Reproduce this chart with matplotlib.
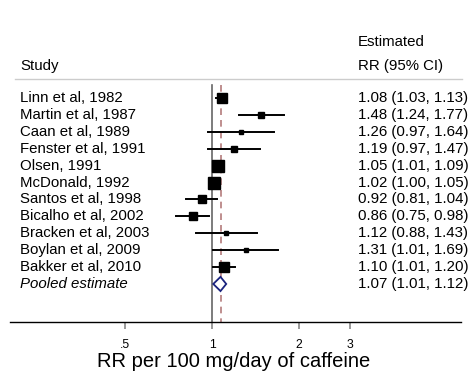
import matplotlib.pyplot as plt
import numpy as np

plt.rcParams['font.family'] = ['Liberation Sans', 'DejaVu Sans']

studies = ['Linn et al, 1982', 'Martin et al, 1987', 'Caan et al, 1989',
           'Fenster et al, 1991', 'Olsen, 1991', 'McDonald, 1992',
           'Santos et al, 1998', 'Bicalho et al, 2002', 'Bracken et al, 2003',
           'Boylan et al, 2009', 'Bakker et al, 2010']
rr = [1.08, 1.48, 1.26, 1.19, 1.05, 1.02, 0.92, 0.86, 1.12, 1.31, 1.10]
lo = [1.03, 1.24, 0.97, 0.97, 1.01, 1.00, 0.81, 0.75, 0.88, 1.01, 1.01]
hi = [1.13, 1.77, 1.64, 1.47, 1.09, 1.05, 1.04, 0.98, 1.43, 1.69, 1.20]
weights = [15.6, 6.3, 3.2, 4.6, 17.0, 18.6, 8.3, 8.3, 3.2, 3.2, 11.6]

pooled = 1.07
pooled_lo = 1.01
pooled_hi = 1.12

ticks = [0.5, 1, 2, 3]
tick_labels = ['.5', '1', '2', '3']

W, H = 477, 380
fig = plt.figure(figsize=(W / 100, H / 100), dpi=100)
ax = fig.add_axes([10 / W, 58 / H, 451 / W, 322 / H])
ax.set_xscale('log')
ax.set_xlim(0.2, 7.27)
ax.set_ylim(13.25, -5.8)
for s in ['top', 'right', 'left']:
    ax.spines[s].set_visible(False)
ax.spines['bottom'].set_linewidth(1.0)
ax.set_yticks([])
ax.set_xticks(ticks)
ax.set_xticklabels(tick_labels, fontsize=8.8)
ax.xaxis.set_minor_locator(plt.NullLocator())
ax.tick_params(axis='x', length=5, width=1.2, color='#888888', pad=7)

n = len(studies)
rows = np.arange(n)

# reference lines
ax.plot([1, 1], [-0.75, 13.25], color='#666666', lw=1.2, zorder=1)
ax.plot([pooled, pooled], [-0.75, 13.25], color='#b47c7c', lw=1.2,
        ls=(0, (4, 3)), zorder=1)

# study estimates
for i in rows:
    ax.plot([lo[i], hi[i]], [i, i], color='black', lw=1.4, zorder=2)
    ms = np.sqrt(weights[i]) * 2.0
    ax.plot(rr[i], i, marker='s', color='black', ms=ms, zorder=3)

# pooled diamond
yp = n
ax.fill([pooled_lo, pooled, pooled_hi, pooled],
        [yp, yp - 0.42, yp, yp + 0.42],
        facecolor='white', edgecolor='#1a237e', lw=1.3, zorder=4)

# header
tr = ax.get_yaxis_transform()
fs = 10.8
fig.text(20 / W, 1 - 66 / H, 'Study', fontsize=fs, va='center')
fig.text(358 / W, 1 - 42 / H, 'Estimated', fontsize=fs, va='center')
fig.text(358 / W, 1 - 66 / H, 'RR (95% CI)', fontsize=fs, va='center')
fig.add_artist(plt.Line2D([15 / W, 462 / W], [1 - 79 / H, 1 - 79 / H],
                          color='#cccccc', lw=1))

for i in range(n + 1):
    if i < n:
        name = studies[i]
        txt = '%.2f (%.2f, %.2f)' % (rr[i], lo[i], hi[i])
        style = 'normal'
    else:
        name = 'Pooled estimate'
        txt = '%.2f (%.2f, %.2f)' % (pooled, pooled_lo, pooled_hi)
        style = 'italic'
    ax.text((20 - 10) / 451, i, name, transform=tr,
            fontsize=fs, va='center', style=style)
    ax.text((358 - 10) / 451, i, txt, transform=tr, fontsize=fs, va='center')

fig.text(234 / W, 1 - 367 / H, 'RR per 100 mg/day of caffeine',
         fontsize=14.5, ha='center', va='baseline')

fig.savefig('out.png', dpi=100)
